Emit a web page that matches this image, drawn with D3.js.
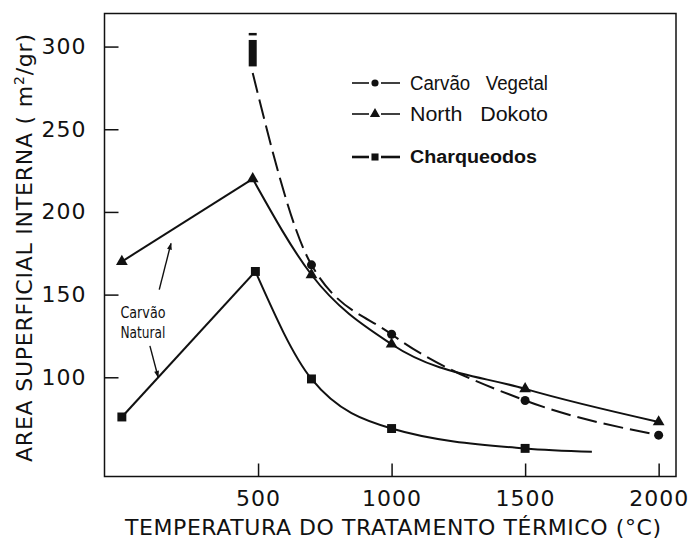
<!DOCTYPE html>
<html>
<head>
<meta charset="utf-8">
<script src="https://cdn.jsdelivr.net/npm/d3@7"></script>
<style>
  body { margin: 0; background: #fff; }
  svg { display: block; }
</style>
</head>
<body>
<svg id="chart"></svg>
<script>
const width = 690, height = 541;
const margin = { top: 13.5, right: 14, bottom: 64.5, left: 104.5 };

// temperatura (°C) / area superficial (m2/gr)
const vegetalTemp = [480, 700, 1000, 1500, 2000];
const vegetalArea = [284, 168, 126, 86, 65];
const vegetalMarked = [false, true, true, true, true];

const dakotaTemp = [-10, 480, 700, 1000, 1500, 2000];
const dakotaArea = [170, 220, 162, 120, 93, 73];
const dakotaMarked = [true, true, true, true, true, true];

const charqTemp = [-10, 490, 700, 1000, 1500, 1750];
const charqArea = [76, 164, 99, 69, 57, 55];
const charqMarked = [true, true, true, true, true, false];

// the off-scale mark above the 500 °C point
const offTemp = 480;
const offBar = [288, 304];
const offDash = 307.5;

const xTicks = [500, 1000, 1500, 2000];
const yTicks = [100, 150, 200, 250, 300];

const legendNames = ["Carvão   Vegetal", "North   Dokoto", "Charqueodos"];

const svg = d3.select("#chart").attr("width", width).attr("height", height);

const x = d3.scaleLinear().domain([-75, 2065]).range([margin.left, width - margin.right]);
const y = d3.scaleLinear().domain([40, 320]).range([height - margin.bottom, margin.top]);

const axisFont = "'DejaVu Sans', sans-serif";

// frame
svg.append("rect")
    .attr("x", x.range()[0]).attr("y", y.range()[1])
    .attr("width", x.range()[1] - x.range()[0])
    .attr("height", y.range()[0] - y.range()[1])
    .attr("fill", "none").attr("stroke", "#111").attr("stroke-width", 1.5);

// axes, ticks pointing inward
const yAxis = svg.append("g")
    .attr("transform", "translate(" + x.range()[0] + ",0)")
    .call(d3.axisLeft(y).tickValues(yTicks).tickFormat(d3.format("d"))
        .tickSizeInner(-14).tickSizeOuter(0).tickPadding(18));
const xAxis = svg.append("g")
    .attr("transform", "translate(0," + y.range()[0] + ")")
    .call(d3.axisBottom(x).tickValues(xTicks).tickFormat(d3.format("d"))
        .tickSizeInner(-13).tickSizeOuter(0).tickPadding(14));

[xAxis, yAxis].forEach(function (a) {
    a.select(".domain").remove();
    a.selectAll("line").attr("stroke", "#111").attr("stroke-width", 1.5);
    a.selectAll("text")
        .attr("fill", "#111")
        .style("font-family", axisFont)
        .style("font-size", "22px")
        .style("letter-spacing", "1px");
});

// axis titles
svg.append("text")
    .attr("x", 125).attr("y", 535)
    .attr("textLength", 536).attr("lengthAdjust", "spacing")
    .style("font-family", axisFont).style("font-size", "22px").attr("fill", "#111")
    .text("TEMPERATURA DO TRATAMENTO TÉRMICO (°C)");

const yTitle = svg.append("text")
    .attr("transform", "translate(24,248) rotate(-90)")
    .attr("text-anchor", "middle").attr("dy", "0.35em")
    .attr("textLength", 428).attr("lengthAdjust", "spacing")
    .style("font-family", axisFont).style("font-size", "22px").attr("fill", "#111");
yTitle.append("tspan").text("AREA SUPERFICIAL INTERNA ( m");
yTitle.append("tspan").attr("baseline-shift", "super").style("font-size", "14px").text("2");
yTitle.append("tspan").text("/gr)");

// series: straight rise to the peak, smooth fall after it
function drawSeries(temps, areas, marked, symbol, size, dash) {
    const pts = temps.map(function (t, i) { return { t: t, a: areas[i], m: marked[i] }; });
    const peak = d3.maxIndex(areas);
    const rise = d3.line().x(function (d) { return x(d.t); }).y(function (d) { return y(d.a); });
    const fall = d3.line().x(function (d) { return x(d.t); }).y(function (d) { return y(d.a); })
        .curve(d3.curveMonotoneX);

    const g = svg.append("g");
    if (peak > 0) {
        g.append("path").attr("d", rise(pts.slice(0, peak + 1)))
            .attr("fill", "none").attr("stroke", "#111").attr("stroke-width", 2)
            .attr("stroke-dasharray", dash);
    }
    g.append("path").attr("d", fall(pts.slice(peak)))
        .attr("fill", "none").attr("stroke", "#111").attr("stroke-width", 2)
        .attr("stroke-dasharray", dash);

    g.selectAll(".mk")
        .data(pts.filter(function (d) { return d.m; }))
        .enter().append("path")
        .attr("class", "mk")
        .attr("d", d3.symbol().type(symbol).size(size))
        .attr("transform", function (d) { return "translate(" + x(d.t) + "," + y(d.a) + ")"; })
        .attr("fill", "#111");
}

drawSeries(vegetalTemp, vegetalArea, vegetalMarked, d3.symbolCircle, 64, "20,7");
drawSeries(dakotaTemp, dakotaArea, dakotaMarked, d3.symbolTriangle, 60, null);
drawSeries(charqTemp, charqArea, charqMarked, d3.symbolSquare, 80, null);

// off-scale mark
svg.append("rect")
    .attr("x", x(offTemp) - 4).attr("width", 8)
    .attr("y", y(offBar[1])).attr("height", y(offBar[0]) - y(offBar[1]))
    .attr("fill", "#111");
svg.append("line")
    .attr("x1", x(offTemp) - 4).attr("x2", x(offTemp) + 4)
    .attr("y1", y(offDash)).attr("y2", y(offDash))
    .attr("stroke", "#111").attr("stroke-width", 2.5);

// annotation: Carvão Natural with two arrows
const defs = svg.append("defs");
defs.append("marker")
    .attr("id", "head").attr("viewBox", "0 0 10 10")
    .attr("refX", 9).attr("refY", 5)
    .attr("markerWidth", 11).attr("markerHeight", 7)
    .attr("markerUnits", "userSpaceOnUse")
    .attr("orient", "auto")
    .append("path").attr("d", "M0,1.5 L10,5 L0,8.5 Z").attr("fill", "#111");

const noteArrows = [
    { from: [130, 153], to: [174, 181] },
    { from: [95, 119], to: [126, 100] }
];
svg.selectAll(".arrow")
    .data(noteArrows)
    .enter().append("line")
    .attr("class", "arrow")
    .attr("x1", function (d) { return x(d.from[0]); })
    .attr("y1", function (d) { return y(d.from[1]); })
    .attr("x2", function (d) { return x(d.to[0]); })
    .attr("y2", function (d) { return y(d.to[1]); })
    .attr("stroke", "#111").attr("stroke-width", 1.4)
    .attr("marker-end", "url(#head)");

const noteLines = ["Carvão", "Natural"];
const noteAreas = [136, 123.5];
svg.selectAll(".note")
    .data(noteLines)
    .enter().append("text")
    .attr("class", "note")
    .attr("x", x(69)).attr("y", function (d, i) { return y(noteAreas[i]); })
    .attr("text-anchor", "middle")
    .attr("textLength", 45).attr("lengthAdjust", "spacingAndGlyphs")
    .style("font-family", axisFont).style("font-size", "16px").attr("fill", "#111")
    .text(function (d) { return d; });

// legend
const legendY = [83, 114, 157];
const legendSymbols = [d3.symbolCircle, d3.symbolTriangle, d3.symbolSquare];
const legendSizes = [40, 45, 50];
const legendLens = [138, 138, 127];
const legend = svg.append("g");
legendNames.forEach(function (name, i) {
    const row = legend.append("g").attr("transform", "translate(0," + legendY[i] + ")");
    const sw = i === 2 ? 2.6 : 1.6;
    row.append("line").attr("x1", 352).attr("x2", 369).attr("stroke", "#111").attr("stroke-width", sw);
    row.append("line").attr("x1", 381).attr("x2", 400).attr("stroke", "#111").attr("stroke-width", sw);
    row.append("path").attr("d", d3.symbol().type(legendSymbols[i]).size(legendSizes[i]))
        .attr("transform", "translate(375,0)").attr("fill", "#111");
    row.append("text")
        .attr("x", 410).attr("dy", "0.36em")
        .attr("textLength", legendLens[i]).attr("lengthAdjust", "spacingAndGlyphs")
        .style("white-space", "pre")
        .style("font-family", "'Liberation Sans', Arial, sans-serif")
        .style("font-size", i === 2 ? "18px" : "20px")
        .style("font-weight", i === 2 ? "bold" : "normal")
        .attr("fill", "#111")
        .text(name);
});
</script>
</body>
</html>
